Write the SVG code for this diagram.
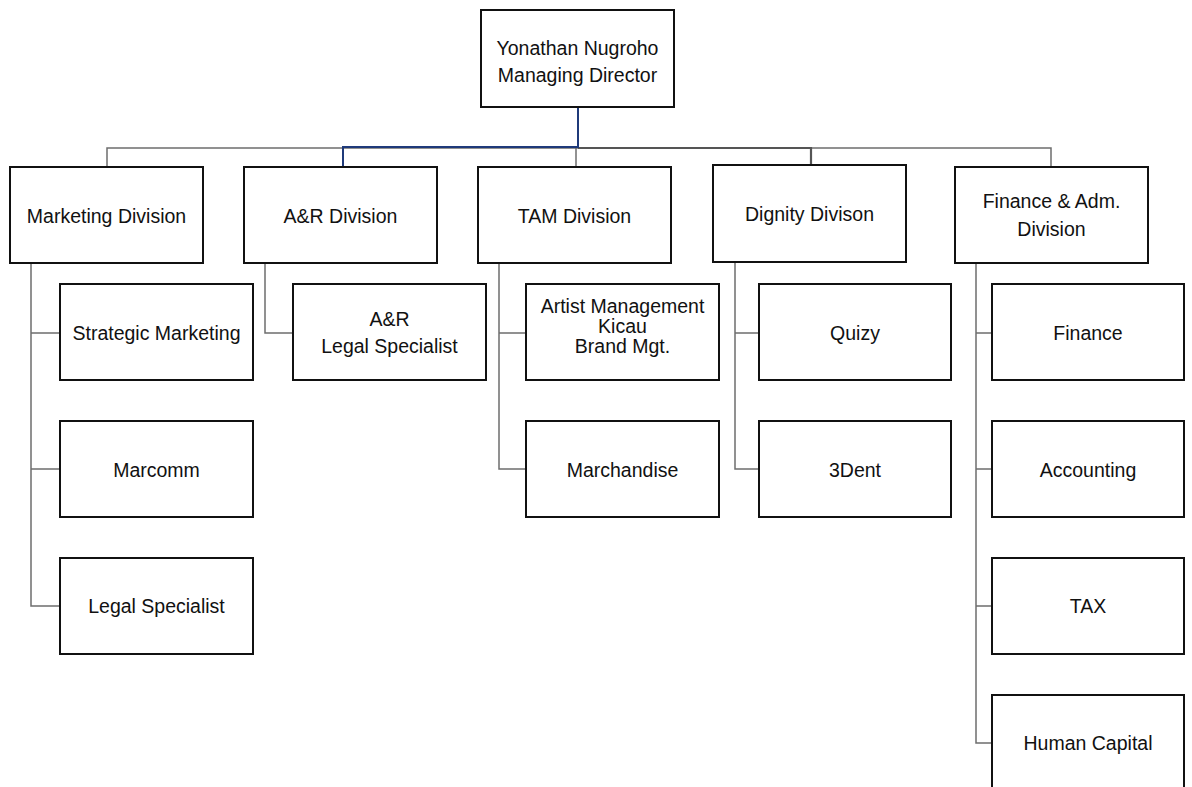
<svg xmlns="http://www.w3.org/2000/svg" width="1192" height="787" viewBox="0 0 1192 787">
<style>
.box{fill:#fff;stroke:#111;stroke-width:2}
.t{font-family:"Liberation Sans",Arial,sans-serif;font-size:19.5px;fill:#111;text-anchor:middle}
.c{fill:none;stroke:#6e6e6e;stroke-width:1.5}
.b{fill:none;stroke:#1f3a7a;stroke-width:2}
</style>
<rect width="1192" height="787" fill="#fff"/>
<g id="connectors">
<path class="c" d="M107,167 V148 H1051 V167"/>
<path class="c" d="M578,148 H811 V165" style="stroke:#555;stroke-width:2.2"/>
<path class="c" d="M576,148 V167"/>
<path class="b" d="M578,107 V147 H343 V167"/>
<path class="c" d="M31,263 V606 H60 M31,333 H60 M31,469 H60"/>
<path class="c" d="M265,263 V333 H293"/>
<path class="c" d="M499,263 V469 H526 M499,333 H526"/>
<path class="c" d="M735,262 V469 H759 M735,333 H759"/>
<path class="c" d="M976,263 V743 H992 M976,333 H992 M976,469 H992 M976,606 H992"/>
</g>
<g id="md"><rect class="box" x="481" y="10" width="193" height="97"/><text class="t" x="577.5" y="55">Yonathan Nugroho</text><text class="t" x="577.5" y="82">Managing Director</text></g>
<g id="marketing"><rect class="box" x="10" y="167" width="193" height="96"/><text class="t" x="106.5" y="223">Marketing Division</text></g>
<g id="ar"><rect class="box" x="244" y="167" width="193" height="96"/><text class="t" x="340.5" y="223">A&amp;R Division</text></g>
<g id="tam"><rect class="box" x="478" y="167" width="193" height="96"/><text class="t" x="574.5" y="223">TAM Division</text></g>
<g id="dignity"><rect class="box" x="713" y="165" width="193" height="97"/><text class="t" x="809.5" y="221">Dignity Divison</text></g>
<g id="finadm"><rect class="box" x="955" y="167" width="193" height="96"/><text class="t" x="1051.5" y="208">Finance &amp; Adm.</text><text class="t" x="1051.5" y="236">Division</text></g>
<g id="strategic"><rect class="box" x="60" y="284" width="193" height="96"/><text class="t" x="156.5" y="340">Strategic Marketing</text></g>
<g id="marcomm"><rect class="box" x="60" y="421" width="193" height="96"/><text class="t" x="156.5" y="477">Marcomm</text></g>
<g id="legal"><rect class="box" x="60" y="558" width="193" height="96"/><text class="t" x="156.5" y="613">Legal Specialist</text></g>
<g id="ar-legal"><rect class="box" x="293" y="284" width="193" height="96"/><text class="t" x="389.5" y="326">A&amp;R</text><text class="t" x="389.5" y="353">Legal Specialist</text></g>
<g id="artist"><rect class="box" x="526" y="284" width="193" height="96"/><text class="t" x="622.5" y="313">Artist Management</text><text class="t" x="622.5" y="333">Kicau</text><text class="t" x="622.5" y="353">Brand Mgt.</text></g>
<g id="marchandise"><rect class="box" x="526" y="421" width="193" height="96"/><text class="t" x="622.5" y="477">Marchandise</text></g>
<g id="quizy"><rect class="box" x="759" y="284" width="192" height="96"/><text class="t" x="855" y="340">Quizy</text></g>
<g id="dent"><rect class="box" x="759" y="421" width="192" height="96"/><text class="t" x="855" y="477">3Dent</text></g>
<g id="finance"><rect class="box" x="992" y="284" width="192" height="96"/><text class="t" x="1088" y="340">Finance</text></g>
<g id="accounting"><rect class="box" x="992" y="421" width="192" height="96"/><text class="t" x="1088" y="477">Accounting</text></g>
<g id="tax"><rect class="box" x="992" y="558" width="192" height="96"/><text class="t" x="1088" y="613">TAX</text></g>
<g id="hc"><rect class="box" x="992" y="695" width="192" height="100"/><text class="t" x="1088" y="750">Human Capital</text></g>
</svg>
